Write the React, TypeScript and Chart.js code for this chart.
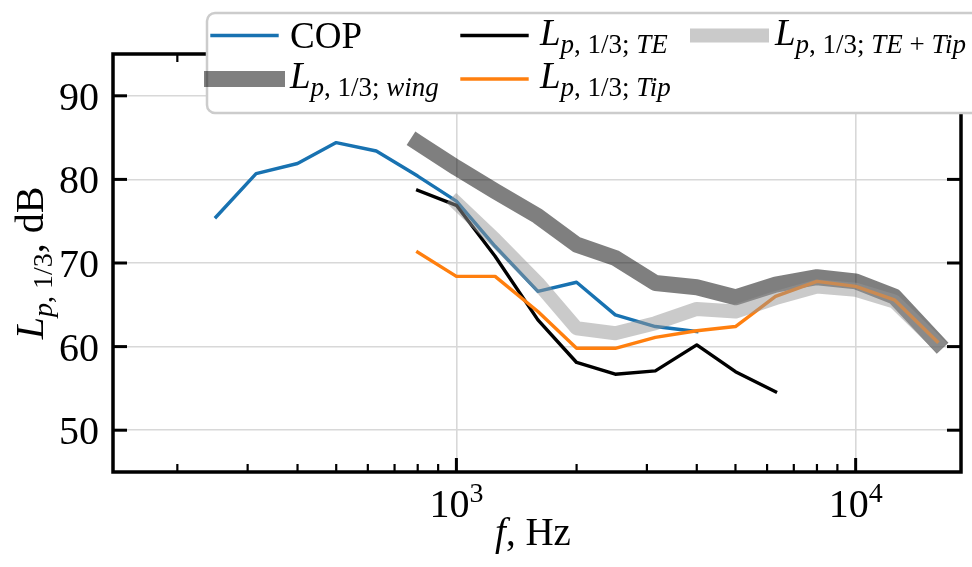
import React, { useEffect, useRef } from 'react';
import { Chart, registerables } from 'chart.js';

Chart.register(...registerables);

// One-third-octave band centre frequencies (Hz)
const FREQ_HZ = [250, 315, 400, 500, 630, 800, 1000, 1250, 1600, 2000, 2500, 3150, 4000, 5000, 6300, 8000, 10000, 12500, 16000];

// Band levels in dB (null where a series has no value)
const COP_DB = [75.5, 80.7, 81.9, 84.4, 83.4, 80.4, 77.4, 72.0, 66.6, 67.7, 63.8, 62.4, 61.8, null, null, null, null, null, null];
const WING_DB = [null, null, null, null, null, 84.4, 81.4, 78.6, 75.6, 72.2, 70.6, 67.6, 67.1, 65.9, 67.4, 68.3, 67.8, 66.0, 60.5];
const TE_DB = [null, null, null, null, null, 78.7, 76.9, 70.8, 63.2, 58.1, 56.7, 57.1, 60.2, 57.0, 54.6, null, null, null, null];
const TIP_DB = [null, null, null, null, null, 71.3, 68.4, 68.4, 64.2, 59.8, 59.8, 61.1, 61.9, 62.4, 66.0, 67.8, 67.2, 65.6, 60.6];
const TE_TIP_DB = [null, null, null, null, null, null, 77.2, 72.8, 67.6, 62.2, 61.6, 62.8, 64.5, 64.2, 65.8, 67.2, 66.8, 65.4, 60.4];

// Axis ranges and ticks
const X_RANGE = [138, 18360];
const Y_RANGE = [45, 95];
const Y_TICKS = [50, 60, 70, 80, 90];
const X_MAJOR = [1000, 10000];
const X_MINOR = [200, 300, 400, 500, 600, 700, 800, 900, 2000, 3000, 4000, 5000, 6000, 7000, 8000, 9000];

const SERIF = '"Liberation Serif", "Times New Roman", Times, serif';

type Run = { text: string; size: number; italic?: boolean; dy?: number };

const runFont = (r: Run) => `${r.italic ? 'italic ' : ''}${r.size}px ${SERIF}`;

function runsWidth(ctx: CanvasRenderingContext2D, runs: Run[]) {
  let w = 0;
  for (const r of runs) {
    ctx.font = runFont(r);
    w += ctx.measureText(r.text).width;
  }
  return w;
}

function drawRuns(ctx: CanvasRenderingContext2D, runs: Run[], x: number, y: number) {
  let cx = x;
  for (const r of runs) {
    ctx.font = runFont(r);
    ctx.fillText(r.text, cx, y + (r.dy || 0));
    cx += ctx.measureText(r.text).width;
  }
}

// L_{p, 1/3; tag}: tag letters in italics, '+' upright
function levelLabel(tag: string, main: number, sub: number, dy: number): Run[] {
  const runs: Run[] = [
    { text: 'L', size: main, italic: true },
    { text: 'p', size: sub, italic: true, dy },
    { text: ', 1/3; ', size: sub, dy },
  ];
  tag.split(/(\+)/).forEach((part) => {
    if (part === '+') runs.push({ text: ' + ', size: sub, dy });
    else if (part) runs.push({ text: part, size: sub, italic: true, dy });
  });
  return runs;
}

type Series = {
  values: (number | null)[];
  label: Run[];
  color: string;
  width: number;
  order: number;
};

// Legend order (column-major, two rows): COP, wing, TE, Tip, TE+Tip
const SERIES: Series[] = [
  { values: COP_DB, label: [{ text: 'COP', size: 37 }], color: '#1872b1', width: 3.4, order: 4 },
  { values: WING_DB, label: levelLabel('wing', 37, 27, 8), color: 'rgba(0,0,0,0.5)', width: 16, order: 3 },
  { values: TE_DB, label: levelLabel('TE', 37, 27, 8), color: '#000000', width: 3.4, order: 2 },
  { values: TIP_DB, label: levelLabel('Tip', 37, 27, 8), color: '#ff7f0e', width: 3.4, order: 1 },
  { values: TE_TIP_DB, label: levelLabel('TE+Tip', 37, 27, 8), color: 'rgba(150,150,150,0.5)', width: 14, order: 0 },
];

const Y_TITLE: Run[] = [
  { text: 'L', size: 40, italic: true },
  { text: 'p', size: 28, italic: true, dy: 9 },
  { text: ', 1/3', size: 28, dy: 9 },
  { text: ', dB', size: 40 },
];

const X_TITLE: Run[] = [
  { text: 'f', size: 39, italic: true },
  { text: ', Hz', size: 39 },
];

function line(ctx: CanvasRenderingContext2D, x1: number, y1: number, x2: number, y2: number) {
  ctx.beginPath();
  ctx.moveTo(x1, y1);
  ctx.lineTo(x2, y2);
  ctx.stroke();
}

const framePlugin = {
  id: 'frameAndLegend',
  afterDraw(chart: any) {
    const { ctx, chartArea: a, scales } = chart;
    const xs = scales.x;
    const ys = scales.y;
    ctx.save();
    ctx.strokeStyle = '#000';
    ctx.fillStyle = '#000';
    ctx.lineCap = 'butt';

    // inward ticks on all four sides
    ctx.lineWidth = 3;
    for (const v of Y_TICKS) {
      const py = ys.getPixelForValue(v);
      line(ctx, a.left, py, a.left + 14, py);
      line(ctx, a.right, py, a.right - 14, py);
    }
    for (const v of X_MAJOR) {
      const px = xs.getPixelForValue(v);
      line(ctx, px, a.bottom, px, a.bottom - 14);
      line(ctx, px, a.top, px, a.top + 14);
    }
    ctx.lineWidth = 2.2;
    for (const v of X_MINOR) {
      const px = xs.getPixelForValue(v);
      line(ctx, px, a.bottom, px, a.bottom - 8);
      line(ctx, px, a.top, px, a.top + 8);
    }

    // axes frame
    ctx.lineWidth = 3.5;
    ctx.strokeRect(a.left, a.top, a.right - a.left, a.bottom - a.top);

    // y tick labels
    ctx.textAlign = 'right';
    ctx.textBaseline = 'alphabetic';
    ctx.font = `40px ${SERIF}`;
    for (const v of Y_TICKS) {
      ctx.fillText(String(v), a.left - 14, ys.getPixelForValue(v) + 14);
    }

    // x tick labels: 10^n
    ctx.textAlign = 'left';
    for (const v of X_MAJOR) {
      const runs: Run[] = [
        { text: '10', size: 40 },
        { text: String(Math.round(Math.log10(v))), size: 28, dy: -15 },
      ];
      const w = runsWidth(ctx, runs);
      drawRuns(ctx, runs, xs.getPixelForValue(v) - w / 2, a.bottom + 45);
    }

    // axis titles
    const xw = runsWidth(ctx, X_TITLE);
    drawRuns(ctx, X_TITLE, (a.left + a.right) / 2 - 4 - xw / 2, a.bottom + 73);

    const yw = runsWidth(ctx, Y_TITLE);
    ctx.save();
    ctx.translate(43, (a.top + a.bottom) / 2);
    ctx.rotate(-Math.PI / 2);
    drawRuns(ctx, Y_TITLE, -yw / 2, 0);
    ctx.restore();

    // legend box
    const bx = 207;
    const by = 13;
    const bw = 790;
    const bh = 100;
    const r = 8;
    ctx.beginPath();
    ctx.moveTo(bx + r, by);
    ctx.lineTo(bx + bw - r, by);
    ctx.arcTo(bx + bw, by, bx + bw, by + r, r);
    ctx.lineTo(bx + bw, by + bh - r);
    ctx.arcTo(bx + bw, by + bh, bx + bw - r, by + bh, r);
    ctx.lineTo(bx + r, by + bh);
    ctx.arcTo(bx, by + bh, bx, by + bh - r, r);
    ctx.lineTo(bx, by + r);
    ctx.arcTo(bx, by, bx + r, by, r);
    ctx.closePath();
    ctx.fillStyle = '#ffffff';
    ctx.fill();
    ctx.strokeStyle = '#cccccc';
    ctx.lineWidth = 2.5;
    ctx.stroke();

    // legend entries
    const colX = [212, 462, 697];
    const rowY = [35.5, 79];
    ctx.fillStyle = '#000';
    SERIES.forEach((s, i) => {
      const cx = colX[Math.floor(i / 2)];
      const cy = rowY[i % 2];
      ctx.strokeStyle = s.color;
      ctx.lineWidth = s.width;
      ctx.lineCap = 'square';
      line(ctx, cx, cy, cx + 65, cy);
      const plain = s.label.length === 1;
      drawRuns(ctx, s.label, cx + 78, cy + (plain ? 12 : 9));
    });

    ctx.restore();
  },
};

export default function App() {
  const canvasRef = useRef<HTMLCanvasElement | null>(null);

  useEffect(() => {
    const canvas = canvasRef.current;
    if (!canvas) return;

    const datasets = SERIES.map((s) => ({
      data: FREQ_HZ.map((f, i) => ({ x: f, y: s.values[i] })).filter((p) => p.y !== null),
      borderColor: s.color,
      backgroundColor: s.color,
      borderWidth: s.width,
      order: s.order,
      pointRadius: 0,
      tension: 0,
      fill: false,
      borderCapStyle: 'square' as const,
      borderJoinStyle: 'round' as const,
    }));

    const chart = new Chart(canvas, {
      type: 'line',
      data: { datasets },
      options: {
        responsive: false,
        animation: false,
        devicePixelRatio: 1,
        layout: { padding: { left: 113, right: 11, top: 54, bottom: 95 } },
        plugins: { legend: { display: false }, tooltip: { enabled: false } },
        scales: {
          x: {
            type: 'logarithmic',
            min: X_RANGE[0],
            max: X_RANGE[1],
            afterBuildTicks: (scale: any) => {
              scale.ticks = X_MAJOR.map((v) => ({ value: v }));
            },
            ticks: { display: false },
            grid: { color: '#d8d8d8', lineWidth: 1.6, drawTicks: false },
            border: { display: false },
          },
          y: {
            type: 'linear',
            min: Y_RANGE[0],
            max: Y_RANGE[1],
            afterBuildTicks: (scale: any) => {
              scale.ticks = Y_TICKS.map((v) => ({ value: v }));
            },
            ticks: { display: false },
            grid: { color: '#d8d8d8', lineWidth: 1.6, drawTicks: false },
            border: { display: false },
          },
        },
      } as any,
      plugins: [framePlugin],
    });

    if ((document as any).fonts && (document as any).fonts.ready) {
      (document as any).fonts.ready.then(() => chart.draw());
    }

    return () => chart.destroy();
  }, []);

  return (
    <div style={{ position: 'fixed', left: 0, top: 0, width: 972, height: 567, background: '#fff' }}>
      <canvas ref={canvasRef} width={972} height={567} style={{ display: 'block' }} />
    </div>
  );
}
